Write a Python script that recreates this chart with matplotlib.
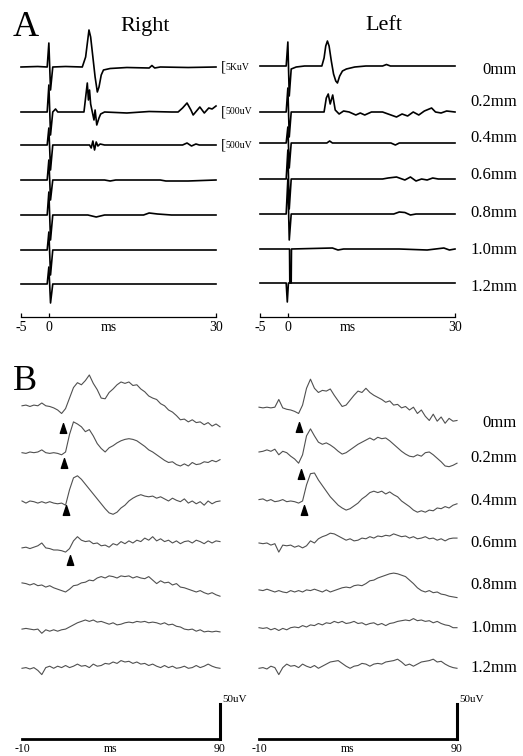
import numpy as np
import matplotlib.pyplot as plt
from matplotlib.path import Path

plt.rcParams['font.family'] = ['Liberation Serif', 'DejaVu Serif']

depths = ['0mm', '0.2mm', '0.4mm', '0.6mm', '0.8mm', '1.0mm', '1.2mm']

# ---------------- Panel A: field responses, -5..30 ms (arbitrary amplitude units)
a_offsets_right = [250, 205, 172, 137, 102, 67, 33]
a_offsets_left = [251, 205, 174, 138, 103, 68, 34]
a_scale_labels = ['5KuV', '500uV', '500uV']

a_right_t = [
    [-5, -2, -0.3, 0, 0.3, 0.7, 3, 6.0, 6.6, 7.0, 7.2, 7.5, 7.9, 8.3, 8.7, 9.0, 9.4, 9.8, 11, 14, 18, 18.5, 19, 20, 25, 30],
    [-5, -0.3, 0, 0.3, 0.7, 1.2, 1.6, 6.3, 6.9, 7.1, 7.3, 7.5, 7.8, 8.1, 8.3, 8.6, 9.0, 9.3, 10, 14, 18, 22,
     23.2, 24.0, 24.8, 25.5, 25.9, 26.5, 27.1, 27.9, 28.7, 29.3, 30],
    [-5, -0.3, 0, 0.3, 0.7, 7.3, 7.6, 7.9, 8.2, 8.5, 8.8, 9.2, 10, 24, 24.8, 25.6, 26.4, 27, 30],
    [-5, -0.3, 0, 0.3, 0.7, 10, 11, 12, 20, 21, 25, 30],
    [-5, -0.3, 0, 0.3, 0.7, 7, 8.5, 10, 17, 18, 19.5, 22, 30],
    [-5, -0.3, 0, 0.3, 0.7, 30],
    [-5, -0.3, 0, 0.3, 0.7, 30],
]
a_right_v = [
    [0, 0.5, 0, 24, -23, 0, 0.5, 0, 10, 28, 37, 30, 10, -10, -25, -20, -8, -3, -1.5, -0.5, -1, 1.5, -1, 0, -0.5, 0],
    [0, 0, 27, -23, 0, 3, 0, 0, 29, 12, 22, 8, 0, -8, 2, -13, -6, -2, 0, -1, 0.5, 0,
     0, 4, 9, 2, -3, 1, 5, -1, 4, 3, 6],
    [0, 0, 17, -25, 0, 0, -3, 4, -5, 3, -1, 1, 0, 0, 2, -1, 1, 0, 0],
    [0, 0, 20, -20, 0, 0, -1, 0, 0, -1, -1, 0],
    [0, 0, 23, -25, 0, 0, -2, 0, 0, 2, 1, 0, 0],
    [0, 0, 18, -25, 0, 0],
    [0, 0, 17, -19, 0, 0],
]
a_left_t = [
    [-5, -0.3, 0, 0.25, 0.6, 1.5, 3, 6.1, 6.5, 6.8, 7.1, 7.4, 7.8, 8.2, 8.6, 8.9, 9.3, 9.8, 10.5, 12, 14, 17, 17.7, 18.4, 25, 30],
    [-5, -0.3, 0, 0.25, 0.6, 6.5, 6.9, 7.25, 7.6, 8.05, 8.5, 9.2, 10, 11, 12.2, 13, 13.8, 15, 17, 18,
     19.5, 20.5, 21.5, 22.5, 23.5, 24.5, 25.8, 26.5, 27.5, 28.5, 30],
    [-5, -0.3, 0, 0.25, 0.6, 7.0, 7.5, 8.0, 18.5, 19.3, 20, 30],
    [-5, -0.3, 0, 0.25, 0.6, 17, 18, 19.5, 21, 22, 23, 24, 25, 26, 27, 30],
    [-5, -0.3, 0, 0.25, 0.6, 19, 20, 21, 22, 23, 30],
    [-5, 0.3, 0.35, 0.6, 0.65, 8, 9, 10, 20, 25, 28, 29, 30],
    [-5, -0.3, -0.1, 0.1, 30],
]
a_left_v = [
    [0, 0, 24, -30, -3, -1, 0, 0, 8, 20, 25, 20, 5, -8, -15, -17, -10, -5, -3, -1, 0, 0, 1.5, 0, 0, 0],
    [0, 0, 24, -25, 0, 0, 14, 18, 8, 17, 2, -2, 1, 0, -3, -1, -3, 0, 0, -2,
     -5, -2, -4, 0, -3, 1, 4, 0, -1, 1, 0],
    [0, 0, 16, -25, 0, 0, 2, 0, 0, -2, 0, 0],
    [0, 0, 29, -30, 0, 0, 1, 2, -1, 2, -2, 0, -1, 1, 0, 0],
    [0, 0, 35, -26, 0, 0, 2, 1.5, -1, 0, 0],
    [0, 0, -34, -34, 0, 1, -1, 0, 0, -1, 1, -1, 0],
    [0, 0, -19, 0, 0],
]

# ---------------- Panel B: slow responses, -10..90 ms, uV (sampled every 2 ms)
b_time = np.arange(-10, 91, 2)
b_offsets_right = [476, 409, 340, 273, 223, 157, 101]
b_offsets_left = [474, 410, 343, 280, 213, 159, 101]

b_right = [
    [0, 1, -1, 1, 0, 4, 0, -1, -3, -6, -11, -4, 11, 26, 33, 30, 36, 44, 32, 23, 11, 10, 19, 24, 30, 34,
     32, 34, 29, 30, 24, 20, 14, 11, 9, 3, 0, -6, -9, -14, -20, -19, -23, -20, -24, -23, -27, -24, -29, -26, -30],
    [0, -1, 1, 0, 1, 4, 0, -1, 0, -1, -3, 1, 26, 44, 41, 37, 30, 33, 24, 13, 6, 1, 7, 10, 14, 17,
     19, 20, 19, 17, 13, 9, 4, 1, -3, -7, -11, -14, -13, -17, -19, -16, -19, -14, -17, -16, -13, -14, -11, -13, -10],
    [0, -3, 0, -1, -3, -1, -3, -1, -3, -4, -3, -6, 16, 33, 36, 31, 24, 17, 10, 3, -4, -11, -17, -19, -16, -10,
     -6, 0, 4, 7, 9, 7, 6, 7, 4, 6, 3, 0, 4, 1, -1, 3, -3, 0, -4, -1, -6, 0, -4, -1, 0],
    [0, 1, -1, 1, 3, 7, 0, -1, -3, -3, -4, -6, -1, 10, 16, 11, 9, 10, 6, 7, 3, 4, 1, 6, 4, 9,
     6, 10, 7, 11, 9, 14, 11, 16, 10, 13, 9, 11, 7, 10, 6, 9, 10, 7, 11, 9, 6, 10, 7, 10, 9],
    [0, -1, -3, -1, -4, -3, -6, -4, -7, -9, -11, -13, -9, -4, -3, 0, 1, 4, 3, 7, 9, 7, 10, 9, 7, 10,
     9, 10, 7, 9, 7, 6, 9, 4, -1, 3, 0, 1, -3, -1, -6, -7, -9, -11, -13, -11, -14, -16, -14, -17, -19],
    [0, 1, 0, -1, 0, -6, -1, -3, -1, -3, -1, 0, 3, 6, 9, 11, 13, 11, 13, 10, 11, 9, 7, 9, 6, 7,
     9, 10, 9, 11, 10, 11, 9, 10, 9, 7, 9, 6, 7, 4, 3, 0, -1, 0, -3, -1, -4, -3, -4, -3, -4],
    [0, 1, -1, 1, -3, -9, 1, 3, 0, 3, 1, 4, 1, 3, 6, 3, 4, 1, 6, 3, 4, 7, 6, 9, 7, 11,
     9, 10, 7, 9, 6, 7, 4, 6, 3, 1, 4, 1, 3, 0, 1, 3, 0, 1, 4, 1, 3, 6, 3, 1, 0],
]
b_left = [
    [0, -1, 0, -1, 0, 11, -1, -3, -4, -6, -9, 3, 27, 40, 27, 21, 24, 23, 26, 17, 9, 1, 3, 10, 17, 23,
     21, 27, 21, 17, 14, 11, 7, 9, 3, 4, -1, 1, -4, 0, -9, -4, -13, -19, -10, -20, -14, -23, -16, -20, -19],
    [0, 1, 3, 1, 4, -4, 1, -1, -6, -10, -16, -4, 23, 33, 23, 14, 11, 13, 10, 6, 1, -3, -1, 3, 7, 11,
     14, 17, 20, 17, 21, 19, 20, 16, 11, 6, 1, -3, -6, -7, -4, -6, -1, 0, -4, -9, -14, -20, -21, -19, -16],
    [-1, 0, -3, -1, -4, -3, -1, -4, -3, -4, -6, -3, 20, 36, 37, 27, 19, 11, 3, -3, -9, -13, -16, -14, -10, -6,
     0, 4, 9, 11, 9, 11, 7, 10, 6, 3, -3, -7, -11, -16, -19, -17, -19, -16, -17, -13, -14, -11, -13, -9, -7],
    [0, -1, 0, -3, -1, -13, -3, -4, -3, -6, -4, -7, -4, 3, 0, 6, 9, 11, 14, 13, 10, 7, 4, 6, 3, 4,
     7, 6, 9, 7, 10, 9, 11, 10, 13, 11, 9, 10, 7, 9, 6, 7, 9, 6, 7, 4, 6, 3, 6, 7, 7],
    [0, -1, 1, -1, -3, -1, -3, -4, -1, -3, -1, -3, 0, -1, 1, -1, -3, 0, -3, -1, 1, 3, 4, 3, 6, 7,
     6, 9, 13, 14, 17, 19, 21, 23, 24, 23, 21, 19, 14, 9, 3, -1, -3, -1, -4, -3, -6, -7, -9, -10, -11],
    [0, -1, 0, -3, -1, -4, -1, -3, 0, 1, 0, 3, 1, 4, 3, 6, 4, 7, 6, 9, 7, 9, 6, 7, 9, 6,
     7, 4, 6, 7, 4, 6, 3, 6, 7, 9, 10, 11, 10, 13, 10, 11, 9, 10, 7, 9, 6, 4, 3, 0, 0],
    [0, 1, -1, 3, 1, -9, 1, 6, 3, 4, 1, 6, 3, 1, 4, 0, 3, 6, 9, 10, 11, 7, 3, 0, 3, 4,
     7, 6, 3, 6, 7, 6, 9, 10, 11, 13, 9, 4, 6, 3, 6, 9, 10, 11, 13, 9, 10, 6, 3, 1, 0],
]
# response onsets (arrowheads)
b_right_arrow_t = [10.7, 11.2, 12.2, 14.2]
b_right_arrow_uv = [444, 394, 327, 256]
b_left_arrow_t = [10.2, 11.2, 12.7]
b_left_arrow_uv = [446, 379, 327]

# label heights
a_label_y = [247, 215, 179, 142, 104, 67, 30]
b_label_uv = [451, 401, 340, 280, 220, 159, 101]

W, H = 523, 756
fig = plt.figure(figsize=(W / 100, H / 100), dpi=100)
fig.patch.set_facecolor('white')


def px_axes(x0, y0, x1, y1):
    return fig.add_axes([x0 / W, 1 - y1 / H, (x1 - x0) / W, (y1 - y0) / H])


def style_a(ax):
    ax.set_xlim(-5, 30)
    ax.set_ylim(0, 297)
    ax.patch.set_alpha(0)
    for s in ['top', 'right', 'left']:
        ax.spines[s].set_visible(False)
    ax.spines['bottom'].set_linewidth(0.9)
    ax.set_yticks([])
    ax.set_xticks([-5, 0, 10.7, 30])
    ax.set_xticklabels(['-5', '0', 'ms', '30'], fontsize=10)
    ax.tick_params(axis='x', direction='in', length=3, width=0.9, pad=3)
    ax.xaxis.get_major_ticks()[2].tick1line.set_visible(False)


def style_b(ax):
    ax.set_xlim(-10, 90)
    ax.set_ylim(0, 541.4)
    ax.patch.set_alpha(0)
    for s in ['top', 'left']:
        ax.spines[s].set_visible(False)
    ax.spines['bottom'].set_linewidth(2.0)
    ax.spines['right'].set_linewidth(2.2)
    ax.spines['right'].set_bounds(0, 50)
    ax.set_yticks([])
    ax.set_xticks([-10, 34.5, 90])
    ax.set_xticklabels(['-10', 'ms', '90'], fontsize=8.5)
    ax.tick_params(axis='x', length=0, pad=3)
    ax.annotate('50uV', xy=(90, 50), xytext=(2, 4), textcoords='offset pixels',
                ha='left', va='center', fontsize=8, annotation_clip=False)


arrow_marker = Path([(-0.33, -0.5), (0.33, -0.5), (0, 0.5), (-0.33, -0.5)],
                    [Path.MOVETO, Path.LINETO, Path.LINETO, Path.CLOSEPOLY])

# ---- A
ax_ar = px_axes(21, 20, 216, 317)
ax_al = px_axes(260, 20, 455, 317)
for ax, ts, vs, offs in [(ax_ar, a_right_t, a_right_v, a_offsets_right),
                         (ax_al, a_left_t, a_left_v, a_offsets_left)]:
    style_a(ax)
    for t, v, off in zip(ts, vs, offs):
        ax.plot(t, np.array(v) + off, color='black', lw=1.2, clip_on=False)

for lab, off in zip(a_scale_labels, a_offsets_right):
    ax_ar.annotate('[', xy=(30, off), xytext=(5, 0), textcoords='offset pixels',
                   ha='left', va='center', fontsize=11, annotation_clip=False)
    ax_ar.annotate(lab, xy=(30, off), xytext=(9, 0), textcoords='offset pixels',
                   ha='left', va='center', fontsize=7, annotation_clip=False)
for lab, y in zip(depths, a_label_y):
    ax_al.annotate(lab, xy=(30, y), xytext=(62, 0), textcoords='offset pixels',
                   ha='right', va='center', fontsize=12, annotation_clip=False)

# ---- B
ax_br = px_axes(22, 360, 220, 739)
ax_bl = px_axes(259, 360, 457, 739)
for ax, traces, offs, at, av in [(ax_br, b_right, b_offsets_right, b_right_arrow_t, b_right_arrow_uv),
                                 (ax_bl, b_left, b_offsets_left, b_left_arrow_t, b_left_arrow_uv)]:
    style_b(ax)
    for tr, off in zip(traces, offs):
        ax.plot(b_time, np.array(tr) + off, color='#505050', lw=0.8, clip_on=False)
    ax.plot(at, av, linestyle='none', marker=arrow_marker, markersize=7,
            color='black', clip_on=False)

for lab, y in zip(depths, b_label_uv):
    ax_bl.annotate(lab, xy=(90, y), xytext=(60, 0), textcoords='offset pixels',
                   ha='right', va='center', fontsize=12, annotation_clip=False)

# ---- headings
fig.text(26 / W, 1 - 27 / H, 'A', fontsize=26, ha='center', va='center')
fig.text(25 / W, 1 - 381 / H, 'B', fontsize=26, ha='center', va='center')
fig.text(145 / W, 1 - 27 / H, 'Right', fontsize=16, ha='center', va='center')
fig.text(384 / W, 1 - 25 / H, 'Left', fontsize=16, ha='center', va='center')

fig.savefig('out.png', dpi=100)
